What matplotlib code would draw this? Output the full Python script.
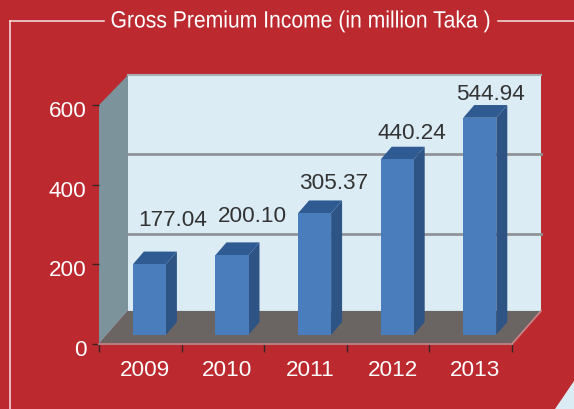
import matplotlib
matplotlib.use('Agg')
import matplotlib.pyplot as plt
import matplotlib.patheffects as pe
from matplotlib.patches import Polygon
from matplotlib.lines import Line2D
from matplotlib.transforms import Affine2D, ScaledTranslation

years = ['2009', '2010', '2011', '2012', '2013']
premium = [177.04, 200.10, 305.37, 440.24, 544.94]
value_labels = ['177.04', '200.10', '305.37', '440.24', '544.94']
y_ticks = [0, 200, 400, 600]

W, H = 574, 410
RED = '#BC2A30'

# depth of the fake 3d box and of the bars, in data units
DX, DY = 0.351, 83
BAR_W, BAR_DX, BAR_DY = 0.40, 0.133, 32
BAR_SHIFT_X, BAR_SHIFT_Y = 0.11, 23
GRID_SHIFT = -6

# where each value label sits relative to its value, in pixels
label_offsets = [(23, 54), (20, 49), (19, 40), (15, 36), (11, 33)]


class Squeeze(pe.AbstractPathEffect):
    # narrows the title, no condensed font is installed
    def __init__(self, x0, sx):
        super().__init__()
        self.x0, self.sx = x0, sx

    def draw_path(self, renderer, gc, tpath, affine, rgbFace=None):
        squeezed = affine + Affine2D().translate(-self.x0, 0).scale(self.sx, 1).translate(self.x0, 0)
        renderer.draw_path(gc, tpath, squeezed, rgbFace)


fig = plt.figure(figsize=(W / 100, H / 100), dpi=100, facecolor=RED)
plt.rcParams['font.family'] = ['Liberation Sans', 'DejaVu Sans']

# front plane of the box: x 99..512, y 345..106 px
ax = fig.add_axes([99 / W, 1 - 345 / H, 413 / W, 239 / H], facecolor='none')
ax.set_xlim(0, 5)
ax.set_ylim(0, 600)
for s in ax.spines.values():
    s.set_visible(False)


def poly(pts, color, z=1):
    ax.add_patch(Polygon(pts, closed=True, facecolor=color, edgecolor='none', clip_on=False, zorder=z))


# back wall, side wall, floor
WALL_TOP = 600 + DY - 8
poly([(DX, DY), (5 + DX, DY), (5 + DX, WALL_TOP), (DX, WALL_TOP)], '#DBECF5')
poly([(0, 0), (DX, DY), (DX, WALL_TOP), (0, 600)], '#7D939B')
poly([(0, 0), (5, 0), (5 + DX, DY), (DX, DY)], '#6A6562')
ax.plot([DX, 5 + DX], [WALL_TOP, WALL_TOP], color='#A3AEB5', lw=1.5, clip_on=False, zorder=2)
ax.plot([0, 5], [0, 0], color='#B87C7C', lw=1.5, clip_on=False, zorder=2)
ax.plot([5, 5 + DX], [0, DY], color='#C9878A', lw=1.2, clip_on=False, zorder=2)

# grid lines only on the back wall
for v in y_ticks[1:-1]:
    ax.plot([DX, 5 + DX], [v + DY + GRID_SHIFT] * 2, color='#8F9498', lw=2, clip_on=False, zorder=1.5)

# bars
xs = [i + 0.5 + BAR_SHIFT_X for i in range(len(years))]
ax.bar(xs, premium, width=BAR_W, bottom=BAR_SHIFT_Y, color='#4A7DBC', zorder=4, clip_on=False)
for x, v in zip(xs, premium):
    left, right = x - BAR_W / 2, x + BAR_W / 2
    top = v + BAR_SHIFT_Y
    poly([(right, BAR_SHIFT_Y), (right + BAR_DX, BAR_SHIFT_Y + BAR_DY),
          (right + BAR_DX, top + BAR_DY), (right, top)], '#2E5485', z=3)
    poly([(left, top), (right, top), (right + BAR_DX, top + BAR_DY), (left + BAR_DX, top + BAR_DY)], '#2F5B92', z=3)

# value labels
for x, v, txt, off in zip(xs, premium, value_labels, label_offsets):
    ax.annotate(txt, (x, v), xytext=(off[0] * 0.72, off[1] * 0.72), textcoords='offset points',
                ha='center', va='center', fontsize=16.2, color='#333333', zorder=6, annotation_clip=False)

# axis ticks and labels
ax.set_yticks(y_ticks)
ax.set_yticklabels([str(v) for v in y_ticks], fontsize=16.2, color='white')
ax.tick_params(axis='y', length=5, width=1, color='#3A2326', pad=4)
shift = ScaledTranslation(0, -3 / 100, fig.dpi_scale_trans)
for lab in ax.get_yticklabels():
    lab.set_transform(lab.get_transform() + shift)
ax.set_xticks(range(len(years) + 1))
ax.set_xticklabels([])
ax.tick_params(axis='x', length=5.5, width=1, color='#3A2326')
ax.set_xticks([i + 0.555 for i in range(len(years))], minor=True)
ax.set_xticklabels(years, minor=True, fontsize=16.2, color='white')
ax.tick_params(axis='x', which='minor', length=0, pad=10.5)

# title and frame, placed in pixels on the figure
title = fig.text(301 / W, 1 - 22.5 / H, 'Gross Premium Income (in million Taka )', ha='center', va='center',
                 color='white', fontsize=17)
title.set_path_effects([Squeeze(301, 0.895)])
for xd, yd in [([10, 104], [22, 22]), ([10, 10], [22, 410]), ([498, 574], [22, 22])]:
    fig.add_artist(Line2D([a / W for a in xd], [1 - b / H for b in yd], color='#F6E3E3', lw=1.1))
fig.add_artist(Polygon([(555 / W, 0), (1, 0), (1, 28 / H)], closed=True, facecolor='#DBECF5',
                       transform=fig.transFigure))

fig.savefig('out.png', dpi=100, facecolor=RED)
